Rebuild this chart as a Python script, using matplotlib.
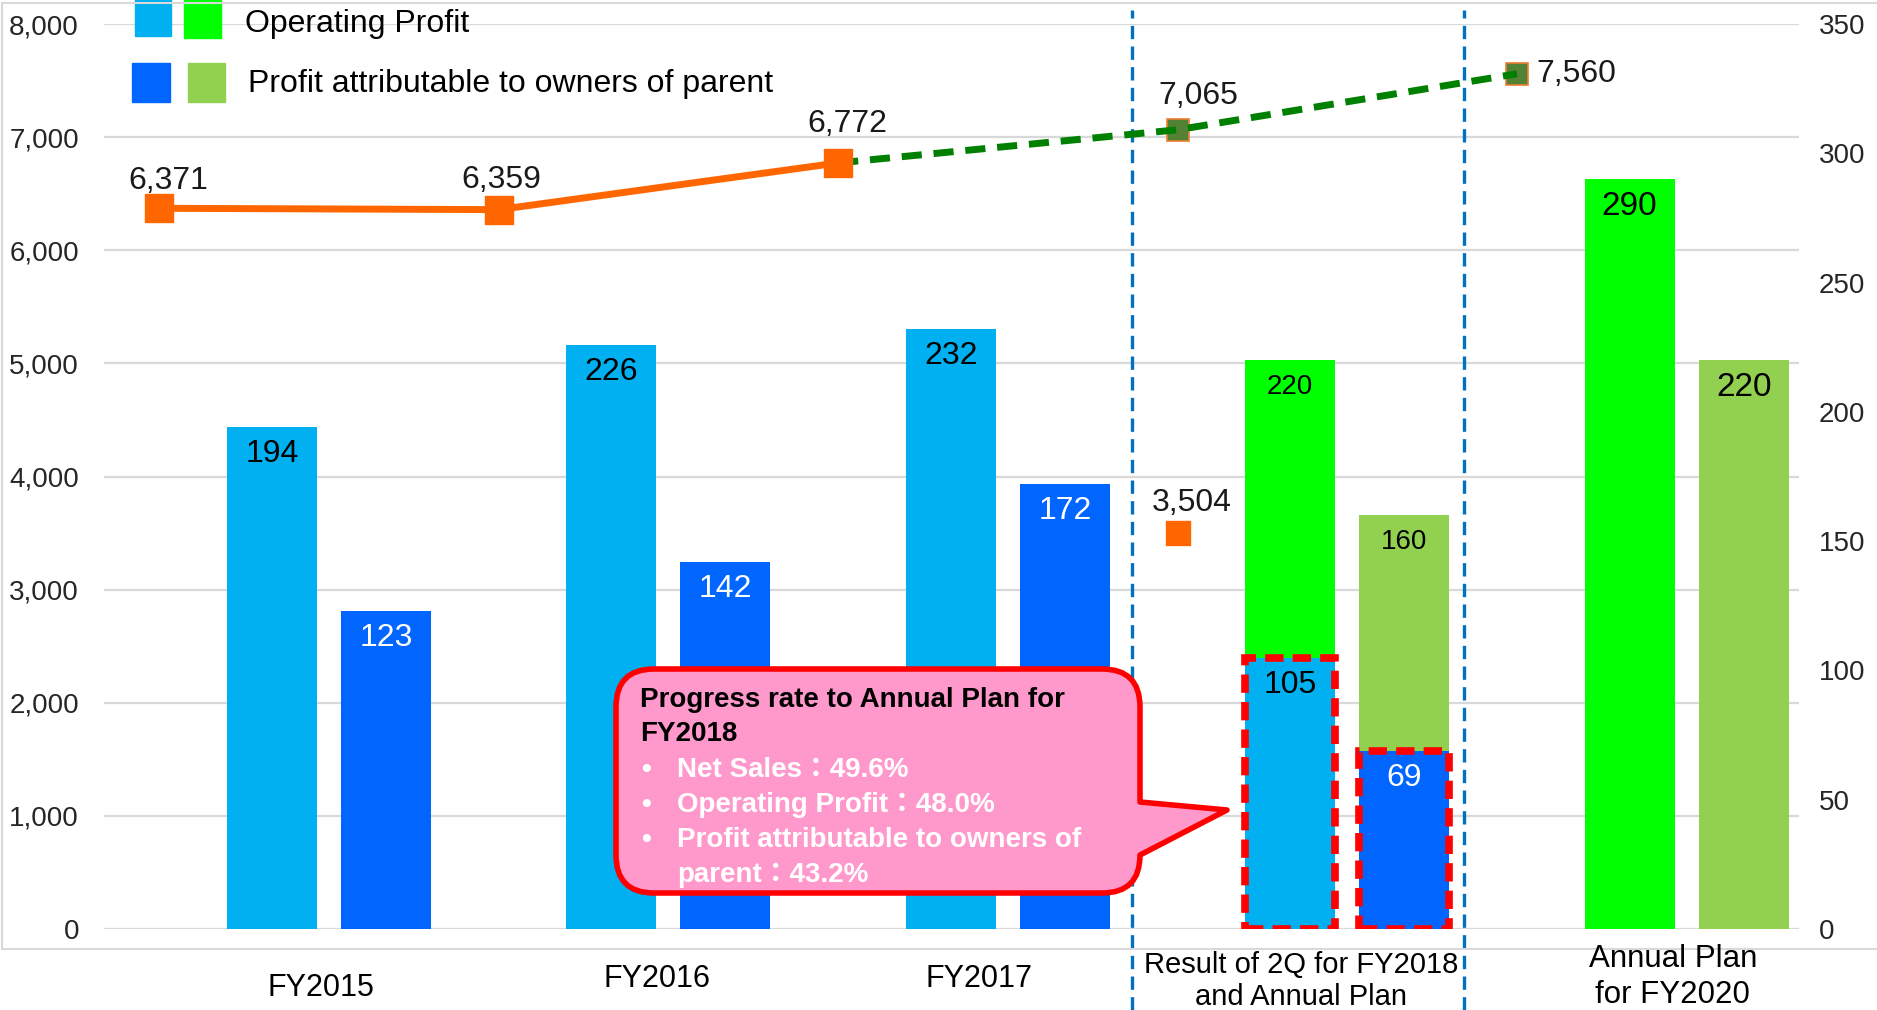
import matplotlib
matplotlib.use("Agg")
import matplotlib.pyplot as plt
import numpy as np
from matplotlib.patches import Rectangle, PathPatch
from matplotlib.path import Path
from matplotlib.transforms import blended_transform_factory

plt.rcParams['font.family'] = ['Liberation Sans', 'Noto Sans CJK JP', 'DejaVu Sans']

# ---------------- data ----------------
categories = ['FY2015', 'FY2016', 'FY2017',
              'Result of 2Q for FY2018\nand Annual Plan', 'Annual Plan\nfor FY2020']

# Operating profit (right axis, 100M yen)
op_result = [194, 226, 232, 105, None]
op_plan = [None, None, None, 220, 290]
# Profit attributable to owners of parent (right axis)
np_result = [123, 142, 172, 69, None]
np_plan = [None, None, None, 160, 220]
# Half-year results get a red dashed outline
half_year = [False, False, False, True, False]

# Net sales (left axis)
sales_result = [6371, 6359, 6772]
sales_plan = [6772, 7065, 7560]
sales_2q = 3504
sales_2q_index = 3

left_ticks = [0, 1000, 2000, 3000, 4000, 5000, 6000, 7000, 8000]
right_ticks = [0, 50, 100, 150, 200, 250, 300, 350]

progress_title = ['Progress rate to Annual Plan for', 'FY2018']
progress_items = ['Net Sales：49.6%', 'Operating Profit：48.0%',
                  'Profit attributable to owners of', 'parent：43.2%']
legend_labels = ['Operating Profit', 'Profit attributable to owners of parent']

# ---------------- styles ----------------
C_OP = '#00B0F0'
C_NP = '#0066FF'
C_OP_PLAN = '#00FF00'
C_NP_PLAN = '#92D050'
C_ORANGE = '#FF6600'
C_GREEN = '#008000'
C_GREEN_MK = '#548235'
C_SEP = '#0070C0'
C_GRID = '#D9D9D9'
C_TXT = '#1a1a1a'

W, H = 1877, 1010
fig = plt.figure(figsize=(W / 100, H / 100), dpi=100)
fig.patch.set_facecolor('white')

ax = fig.add_axes([104 / W, 1 - 929 / H, (1799 - 104) / W, 905 / H])
ax.set_xlim(-0.663, 4.331)
ax.set_ylim(0, 8000)
ax2 = ax.twinx()
ax2.set_ylim(0, 350)

for a in (ax, ax2):
    for s in a.spines.values():
        s.set_visible(False)
    a.set_xticks([])

ax.set_yticks(left_ticks)
ax.set_yticklabels([f'{t:,}' for t in left_ticks])
ax.tick_params(axis='y', length=0, pad=18, labelsize=20, labelcolor='#262626')
ax.grid(axis='y', color=C_GRID, lw=1.6)
ax.set_axisbelow(True)

ax2.set_yticks(right_ticks)
ax2.set_yticklabels([str(t) for t in right_ticks])
ax2.tick_params(axis='y', length=0, pad=14, labelsize=20, labelcolor='#262626')

x = np.arange(len(categories))
off = 0.168
bw = 0.265


def bar_label(xc, top, text, color, size):
    ax2.annotate(text, (xc, top), xytext=(0, -19.5), textcoords='offset points',
                 ha='center', va='center', fontsize=size, color=color, zorder=6)


# bars
for i in range(len(categories)):
    xo, xn = x[i] - off, x[i] + off
    base_op = op_result[i] or 0
    base_np = np_result[i] or 0
    if op_result[i] is not None:
        ax2.bar(xo, op_result[i], bw, color=C_OP, zorder=2)
    if np_result[i] is not None:
        ax2.bar(xn, np_result[i], bw, color=C_NP, zorder=2)
    if op_plan[i] is not None:
        ax2.bar(xo, op_plan[i] - base_op, bw, bottom=base_op, color=C_OP_PLAN, zorder=2)
    if np_plan[i] is not None:
        ax2.bar(xn, np_plan[i] - base_np, bw, bottom=base_np, color=C_NP_PLAN, zorder=2)
    if half_year[i]:
        ax2.bar(xo, op_result[i], bw, fill=False, edgecolor='#FF0000', lw=5.5,
                linestyle=(0, (2.4, 1.2)), zorder=4)
        ax2.bar(xn, np_result[i], bw, fill=False, edgecolor='#FF0000', lw=5.5,
                linestyle=(0, (2.4, 1.2)), zorder=4)

    small = op_plan[i] is not None and op_result[i] is not None
    if op_result[i] is not None:
        bar_label(xo, op_result[i], str(op_result[i]), 'black', 23)
    if np_result[i] is not None:
        bar_label(xn, np_result[i], str(np_result[i]), 'white', 23)
    if op_plan[i] is not None:
        bar_label(xo, op_plan[i], str(op_plan[i]), 'black', 20 if small else 24)
    if np_plan[i] is not None:
        bar_label(xn, np_plan[i], str(np_plan[i]), 'black', 20 if small else 24)

# net sales line (points sit between category groups)
xl = x - 0.5
ax.plot(xl[3:5], sales_plan[1:], ls='none', marker='s', ms=16.5,
        mfc=C_GREEN_MK, mec='#ED7D31', mew=1.2, zorder=3)
ax.plot(xl[2:5], sales_plan, color=C_GREEN, lw=5, ls=(0, (2.9, 1.7)), zorder=4)
ax.plot(xl[:3], sales_result, color=C_ORANGE, lw=5, marker='s', ms=19.5,
        mfc=C_ORANGE, mec=C_ORANGE, zorder=5)
ax.plot([xl[sales_2q_index]], [sales_2q], ls='none', marker='s', ms=17,
        mfc=C_ORANGE, mec=C_ORANGE, zorder=5)

sales_pts = list(zip(xl[:3], sales_result)) + list(zip(xl[3:5], sales_plan[1:])) \
    + [(xl[sales_2q_index], sales_2q)]
label_offsets = [(6.5, 20), (1.5, 21.5), (6.5, 28), (15, 24), (14, 0), (10, 21.5)]
for (px, py), (dx, dy) in zip(sales_pts, label_offsets):
    ha = 'left' if dy == 0 else 'center'
    ax.annotate(f'{py:,}', (px, py), xytext=(dx, dy), textcoords='offset points',
                ha=ha, va='center', fontsize=23, color=C_TXT, zorder=6)

# separators between actual, half-year and plan sections
for sx in (2.367, 3.344):
    ax.axvline(sx, ymin=-0.0895, ymax=1.0155, clip_on=False, color=C_SEP,
               lw=2.4, ls=(0, (4, 2.2)), zorder=1)

# ---------------- overlay in pixel coordinates ----------------
ov = fig.add_axes([0, 0, 1, 1], zorder=10)
ov.set_xlim(0, W)
ov.set_ylim(H, 0)
ov.axis('off')

# outer chart frame
ov.plot([2, 2, W], [949, 3, 3], color=C_GRID, lw=1.5)
ov.plot([2, W], [949, 949], color=C_GRID, lw=1.5)

# category labels under the plot
lab_tr = blended_transform_factory(ax.transData, ov.transData)
lab_dx = [-0.024, -0.035, -0.085, -0.136, -0.041]
lab_y = [988, 979, 979, 981, 977]
lab_size = [22, 22, 22, 21, 22.5]
for i, lab in enumerate(categories):
    ov.text(x[i] + lab_dx[i], lab_y[i], lab, transform=lab_tr, ha='center', va='center',
            fontsize=lab_size[i], color='black', linespacing=1.22, clip_on=False)

# legend
ov.add_patch(Rectangle((135, -2), 36, 38, color=C_OP))
ov.add_patch(Rectangle((184, -2), 37, 40, color=C_OP_PLAN))
ov.add_patch(Rectangle((132, 63), 38, 39, color=C_NP))
ov.add_patch(Rectangle((188, 63), 37, 39, color=C_NP_PLAN))
ov.text(245, 24, legend_labels[0], ha='left', va='center', fontsize=23, color='black')
ov.text(248, 84, legend_labels[1], ha='left', va='center', fontsize=23, color='black')

# callout bubble
x0, x1, y0, y1, r = 616, 1140, 669, 893, 38
verts = [(x0 + r, y0), (x1 - r, y0), (x1, y0), (x1, y0 + r), (x1, 802), (1227, 810),
         (x1, 855), (x1, y1 - r), (x1, y1), (x1 - r, y1), (x0 + r, y1), (x0, y1),
         (x0, y1 - r), (x0, y0 + r), (x0, y0), (x0 + r, y0), (x0 + r, y0)]
codes = [Path.MOVETO, Path.LINETO, Path.CURVE3, Path.CURVE3, Path.LINETO, Path.LINETO,
         Path.LINETO, Path.LINETO, Path.CURVE3, Path.CURVE3, Path.LINETO, Path.CURVE3,
         Path.CURVE3, Path.LINETO, Path.CURVE3, Path.CURVE3, Path.CLOSEPOLY]
ov.add_patch(PathPatch(Path(verts, codes), facecolor='#FF99CC', edgecolor='#FF0000',
                       lw=4, joinstyle='round'))

ov.text(640, 700, progress_title[0], ha='left', va='center', fontsize=20,
        fontweight='bold', color='black')
ov.text(640, 734, progress_title[1], ha='left', va='center', fontsize=20,
        fontweight='bold', color='black')
item_y = [770, 805, 840, 875]
for txt, yy in zip(progress_items, item_y):
    if not txt.startswith('parent'):
        ov.text(646, yy, '•', ha='center', va='center', fontsize=20,
                fontweight='bold', color='white')
    ov.text(677, yy, txt, ha='left', va='center', fontsize=20,
            fontweight='bold', color='white')

fig.savefig('out.png', dpi=100)
